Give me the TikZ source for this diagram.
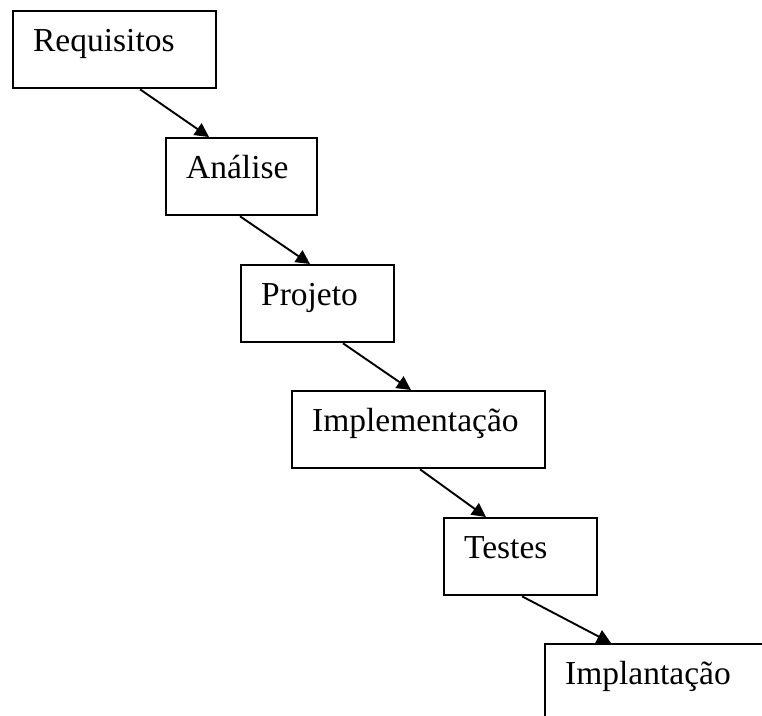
\documentclass[tikz,border=0pt]{standalone}
\usepackage{fontspec}
\setmainfont{Liberation Serif}
\usetikzlibrary{arrows.meta}

\tikzset{
    phase/.style={draw, line width=2.3pt, anchor=north west, inner xsep=20pt, inner ysep=0pt,
        align=left, text height=40pt, text depth=37pt, font=\fontsize{33.5}{40}\selectfont},
    flow/.style={line width=1.9pt, -{Triangle[length=14pt,width=14pt]}}
}

\begin{document}
\begin{tikzpicture}[x=1pt, y=-1pt]
    \clip (0,0) rectangle (762,715);
    \fill[white] (0,0) rectangle (762,715);
    % phases of the waterfall
    \node[phase, text width=163pt] (req) at (12,10) {Requisitos};
    \node[phase, text width=111pt] (ana) at (165,137) {Análise};
    \node[phase, text width=113pt] (proj) at (240,264) {Projeto};
    \node[phase, text width=213pt] (impl) at (291,390) {Implementação};
    \node[phase, text width=113pt] (test) at (443,517) {Testes};
    \node[phase, text width=200pt] (impa) at (544,643) {Implantação};
    % arrows between phases
    \draw[flow] ([xshift=128pt]req.south west) -- ([xshift=44pt]ana.north west);
    \draw[flow] ([xshift=75pt]ana.south west) -- ([xshift=70pt]proj.north west);
    \draw[flow] ([xshift=103pt]proj.south west) -- ([xshift=120pt]impl.north west);
    \draw[flow] ([xshift=129pt]impl.south west) -- ([xshift=43pt]test.north west);
    \draw[flow] ([xshift=79pt]test.south west) -- ([xshift=67pt]impa.north west);
\end{tikzpicture}
\end{document}
